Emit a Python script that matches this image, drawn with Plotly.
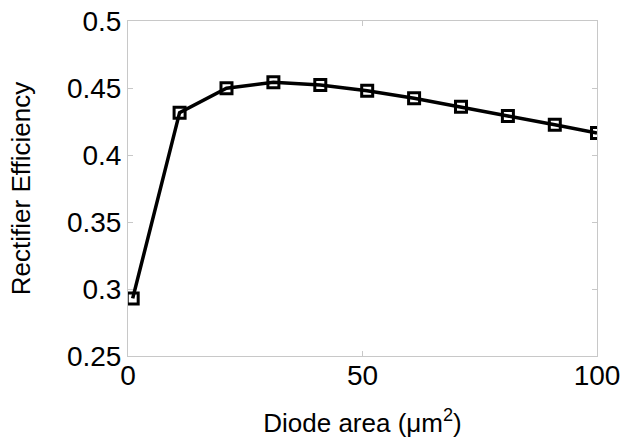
import plotly.graph_objects as go

diode_area = [1, 11, 21, 31, 41, 51, 61, 71, 81, 91, 100]
efficiency = [0.293, 0.4316, 0.4498, 0.4542, 0.4522, 0.448, 0.4423, 0.436, 0.4291, 0.4226, 0.4164]

x_ticks = [0, 50, 100]
y_ticks = [0.25, 0.3, 0.35, 0.4, 0.45, 0.5]
y_tick_text = ["0.25", "0.3", "0.35", "0.4", "0.45", "0.5"]

FONT = "Liberation Sans, Arial, sans-serif"
AXIS_GREY = "#c8c8c8"

fig = go.Figure()
fig.add_trace(go.Scatter(
    x=diode_area, y=efficiency, mode="lines+markers",
    line=dict(color="black", width=3.5),
    marker=dict(symbol="square-open", size=11, color="black",
                line=dict(width=3, color="black")),
    showlegend=False,
))

fig.update_layout(
    width=624, height=441,
    margin=dict(l=128, r=27, t=21, b=85),
    paper_bgcolor="white", plot_bgcolor="white",
    font=dict(family=FONT, color="black"),
)
fig.update_xaxes(
    range=[0, 100], tickvals=x_ticks, ticktext=[str(v) for v in x_ticks],
    automargin=False,
    showgrid=False, zeroline=False, showline=True, linecolor=AXIS_GREY, linewidth=1,
    mirror="ticks", ticks="inside", ticklen=5, tickcolor=AXIS_GREY, tickwidth=1,
    ticklabelstandoff=-6,
    tickfont=dict(size=28, family=FONT, color="black"),
    title=dict(text="Diode area (\u03bcm<sup>2</sup>)", font=dict(size=26, family=FONT, color="black"), standoff=24),
)
fig.update_yaxes(
    range=[0.25, 0.5], tickvals=y_ticks, ticktext=y_tick_text,
    automargin=False,
    showgrid=False, zeroline=False, showline=True, linecolor=AXIS_GREY, linewidth=1,
    mirror="ticks", ticks="inside", ticklen=5, tickcolor=AXIS_GREY, tickwidth=1,
    tickfont=dict(size=28, family=FONT, color="black"),
    title=dict(text="Rectifier Efficiency", font=dict(size=26, family=FONT, color="black"), standoff=28),
)

fig.write_html("out.html")
